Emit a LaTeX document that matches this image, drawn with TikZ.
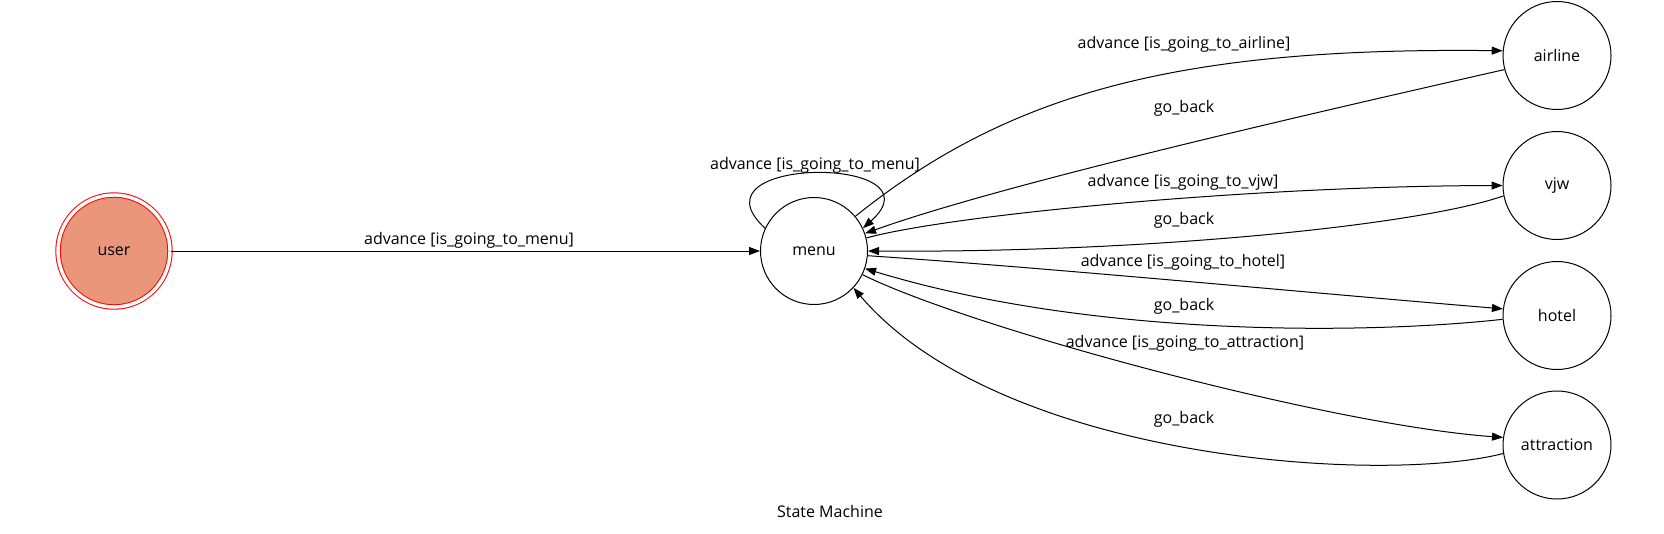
\documentclass[tikz,border=0pt]{standalone}
\usepackage{fontspec}
\setmainfont{Open Sans}
\usetikzlibrary{arrows.meta}
\definecolor{usrfill}{RGB}{233,150,122}
\begin{document}
\begin{tikzpicture}[x=1pt,y=-1pt,
  state/.style={circle,draw=black,line width=1pt,minimum size=108pt,inner sep=0pt,font=\fontsize{16}{19}\selectfont},
  lbl/.style={font=\fontsize{16}{19}\selectfont,inner sep=0pt},
  edge/.style={line width=1pt,-{Triangle[length=11pt,width=8pt]}}]
\useasboundingbox (0,0) rectangle (1664,533);
\node[state,draw=red,fill=usrfill,double=white,double distance=3.4pt,line width=1pt,minimum size=112pt] (user) at (114,251) {user};
\node[state,minimum size=107pt] (menu) at (814,251) {menu};
\node[state] (airline) at (1557,55.5) {airline};
\node[state] (vjw) at (1557,185.5) {vjw};
\node[state] (hotel) at (1557,315.5) {hotel};
\node[state] (attraction) at (1557,445) {attraction};

\draw[edge] (user) -- (menu);
\draw[edge] (menu.155) .. controls (685,155) and (945,155) .. (menu.25);
\draw[edge] (menu.40) .. controls (1010,92) and (1180,47) .. (airline.175);
\draw[edge] (airline.195) .. controls (1300,116) and (1000,185) .. (menu.19);
\draw[edge] (menu.14) .. controls (950,215) and (1250,186) .. (vjw.180);
\draw[edge] (vjw.191) .. controls (1420,225) and (1150,253) .. (menu.0);
\draw[edge] (menu.-5) .. controls (1050,268) and (1300,292) .. (hotel.173);
\draw[edge] (hotel.184) .. controls (1380,333) and (1100,340) .. (menu.-19);
\draw[edge] (menu.-26) .. controls (970,328) and (1330,425) .. (attraction.172.5);
\draw[edge] (attraction.189) .. controls (1380,485) and (1000,460) .. (menu.-43.5);

\node[lbl] (l0) at (469,240) {advance [is\_going\_to\_menu]};
\node[lbl] (l1) at (815,165) {advance [is\_going\_to\_menu]};
\node[lbl] (l2) at (1184,44) {advance [is\_going\_to\_airline]};
\node[lbl] (l3) at (1184,108) {go\_back};
\node[lbl] (l4) at (1183,182) {advance [is\_going\_to\_vjw]};
\node[lbl] (l5) at (1184,220) {go\_back};
\node[lbl] (l6) at (1183,262.7) {advance [is\_going\_to\_hotel]};
\node[lbl] (l7) at (1184,306) {go\_back};
\node[lbl] (l8) at (1185,343) {advance [is\_going\_to\_attraction]};
\node[lbl] (l9) at (1184,419) {go\_back};
\node[lbl] (title) at (830,511) {State Machine};
\end{tikzpicture}
\end{document}
